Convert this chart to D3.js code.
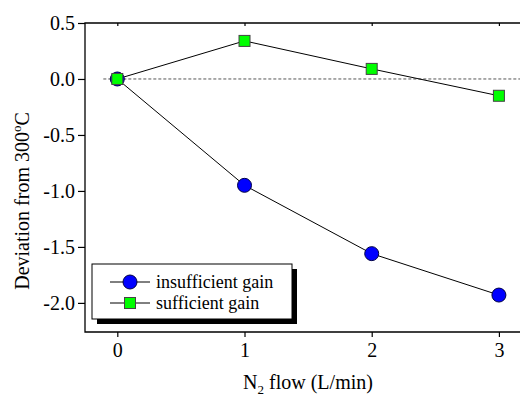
<!DOCTYPE html>
<html>
<head>
<meta charset="utf-8">
<script src="https://cdn.jsdelivr.net/npm/d3@7"></script>
<style>
  body { margin: 0; background: #fff; }
  svg { display: block; }
  text { font-family: "Liberation Serif", "Times New Roman", serif; fill: #000; }
</style>
</head>
<body>
<div id="chart"></div>
<script>
// data
const flows = [0, 1, 2, 3];
const insufficient = [0.0, -0.95, -1.56, -1.93];
const sufficient = [0.0, 0.34, 0.09, -0.15];
const xTicks = [0, 1, 2, 3];
const yTicks = [0.5, 0.0, -0.5, -1.0, -1.5, -2.0];

const w = 520, h = 398;
const padLeft = 85, padTop = 23, padBottom = 332;

const xScale = d3.scaleLinear().domain([-0.254, 3.25]).range([padLeft, padLeft + 3.504 * 127.2]);
const yScale = d3.scaleLinear().domain([-2.26, 0.5]).range([padBottom, padTop]);

const svg = d3.select("#chart").append("svg")
  .attr("width", w).attr("height", h);

// zero reference line
svg.append("line")
  .attr("x1", xScale(-0.11)).attr("x2", w)
  .attr("y1", yScale(0)).attr("y2", yScale(0))
  .attr("stroke", "#555").attr("stroke-width", 1)
  .attr("stroke-dasharray", "3,2");

// axes
const yAxisGen = d3.axisLeft(yScale).tickValues(yTicks).tickSize(7).tickPadding(3)
  .tickFormat(d3.format(".1f"));
const xAxisGen = d3.axisBottom(xScale).tickValues(xTicks).tickSize(5).tickPadding(6)
  .tickFormat(d3.format("d"));
const topAxisGen = d3.axisBottom(xScale).tickValues(xTicks).tickSize(3).tickFormat("");

const fixAxis = g => {
  g.select(".domain").remove();
  g.selectAll("line").attr("stroke", "#000").attr("stroke-width", 1.2);
  g.selectAll("text").attr("font-size", 20)
    .attr("font-family", "Liberation Serif, Times New Roman, serif");
};

svg.append("g").attr("transform", "translate(" + padLeft + ",0)").call(yAxisGen).call(fixAxis)
  .selectAll("text").text(d => d.toFixed(1).replace("\u2212", "-"));
svg.append("g").attr("transform", "translate(0," + padBottom + ")").call(xAxisGen).call(fixAxis);
svg.append("g").attr("transform", "translate(0," + padTop + ")").call(topAxisGen).call(fixAxis);

// frame lines (no right side, clipped by window)
svg.append("path")
  .attr("d", "M" + w + "," + padTop + "H" + padLeft + "V" + padBottom + "H" + w)
  .attr("fill", "none").attr("stroke", "#000").attr("stroke-width", 1.3);

// series lines
const line = d3.line().x((d, i) => xScale(flows[i])).y(d => yScale(d));

svg.append("path").attr("d", line(insufficient))
  .attr("fill", "none").attr("stroke", "#000").attr("stroke-width", 1);
svg.append("path").attr("d", line(sufficient))
  .attr("fill", "none").attr("stroke", "#000").attr("stroke-width", 1);

// markers
svg.selectAll("circle.ins").data(insufficient).enter().append("circle")
  .attr("class", "ins")
  .attr("cx", (d, i) => xScale(flows[i])).attr("cy", d => yScale(d))
  .attr("r", 7)
  .attr("fill", "#0000ff").attr("stroke", "#000044").attr("stroke-width", 1);

const sq = 11;
svg.selectAll("rect.suf").data(sufficient).enter().append("rect")
  .attr("class", "suf")
  .attr("x", (d, i) => xScale(flows[i]) - sq / 2).attr("y", d => yScale(d) - sq / 2)
  .attr("width", sq).attr("height", sq)
  .attr("fill", "#00ff00").attr("stroke", "#444").attr("stroke-width", 1);

// legend
const lg = svg.append("g").attr("transform", "translate(92,264)");
lg.append("rect").attr("x", 5).attr("y", 5).attr("width", 200).attr("height", 55).attr("fill", "#000");
lg.append("rect").attr("x", 0).attr("y", 0).attr("width", 200).attr("height", 55)
  .attr("fill", "#fff").attr("stroke", "#000").attr("stroke-width", 1);

const legendRows = [
  { label: "insufficient gain", y: 18, type: "circle" },
  { label: "sufficient gain", y: 39, type: "square" }
];
legendRows.forEach(r => {
  lg.append("line").attr("x1", 18).attr("x2", 58).attr("y1", r.y).attr("y2", r.y)
    .attr("stroke", "#000").attr("stroke-width", 1);
  if (r.type === "circle") {
    lg.append("circle").attr("cx", 38).attr("cy", r.y).attr("r", 7)
      .attr("fill", "#0000ff").attr("stroke", "#000044");
  } else {
    lg.append("rect").attr("x", 38 - sq / 2).attr("y", r.y - sq / 2).attr("width", sq).attr("height", sq)
      .attr("fill", "#00ff00").attr("stroke", "#444");
  }
  lg.append("text").attr("x", 64).attr("y", r.y + 6).attr("font-size", 18).text(r.label);
});

// axis titles
const xt = svg.append("text").attr("x", 308).attr("y", 389).attr("text-anchor", "middle")
  .attr("font-size", 20);
xt.append("tspan").text("N");
xt.append("tspan").attr("font-size", 13).attr("dy", 5).text("2");
xt.append("tspan").attr("dy", -5).text(" flow (L/min)");

const yt = svg.append("text").attr("transform", "translate(29,201) rotate(-90)")
  .attr("text-anchor", "middle").attr("font-size", 20);
yt.append("tspan").text("Deviation from 300");
yt.append("tspan").attr("font-size", 13).attr("dy", -8).text("o");
yt.append("tspan").attr("dy", 8).text("C");
</script>
</body>
</html>
